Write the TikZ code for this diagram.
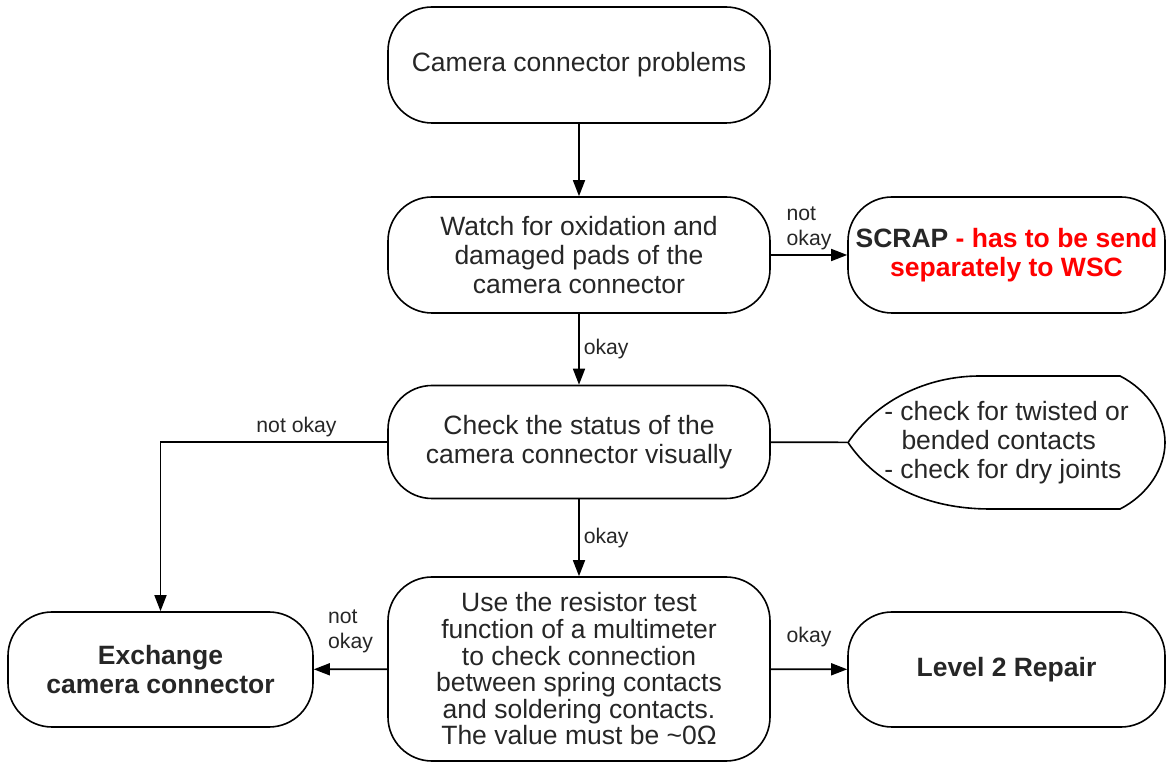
\documentclass[tikz,border=0pt]{standalone}
\usepackage{fontspec}
\setmainfont{Liberation Sans}
\usepackage{tikz}
\usetikzlibrary{arrows.meta}
\tikzset{
    stepBox/.style={draw, line width=0.8pt, rounded corners=22pt, align=center,
		text=black!85, minimum width=191pt, minimum height=58pt, inner sep=2pt,
		font=\fontsize{13.25}{14.4}\selectfont},
    flowArrow/.style={line width=0.8pt, -{Triangle[length=8pt,width=6pt]}},
    edgeLabel/.style={text=black!85, align=left, inner sep=2pt,
		font=\fontsize{10.6}{12.4}\selectfont}
}

\begin{document}
\begin{tikzpicture}[x=0.5pt,y=-0.5pt]
			\useasboundingbox (0,0) rectangle (1167,763);
			\node[stepBox] (problems) at (579,65) {Camera connector problems};
			\node[stepBox] (watch) at (579,255) {Watch for oxidation and\\damaged pads of the\\camera connector};
			\node[stepBox, minimum width=158.5pt] (scrap) at (1006.5,255) {\textbf{SCRAP} \textcolor{red}{\textbf{- has to be send}}\\\textcolor{red}{\textbf{separately to WSC}}};
			\node[stepBox, minimum height=56.5pt] (check) at (579,442) {Check the status of the\\camera connector visually};
			\node[stepBox, minimum height=92pt, font=\fontsize{13.25}{13.3}\selectfont] (resistor) at (579,669) {Use the resistor test\\function of a multimeter\\to check connection\\between spring contacts\\and soldering contacts.\\The value must be \textasciitilde0Ω};
			\node[stepBox, minimum width=152.5pt, minimum height=57.5pt] (exchange) at (160.5,669.5) {\textbf{Exchange}\\\textbf{camera connector}};
			\node[stepBox, minimum width=158.5pt, minimum height=57.5pt] (level) at (1006.5,669.5) {\textbf{Level 2 Repair}};
			% note beside the visual check
			\node[stepBox, draw=none, align=left, minimum width=158.5pt, minimum height=66.5pt] (note) at (1006.5,442.5) {- check for twisted or\\\hspace*{0.65em}bended contacts\\- check for dry joints};
			\begin{scope}[shift={(note.center)}]
				\draw[line width=0.8pt] (-158.5,0) .. controls (-130,-42) and (-80,-66.5) .. (-26.5,-66.5) -- (113.5,-66.5)
					.. controls (142,-52) and (158.5,-25) .. (158.5,0) .. controls (158.5,25) and (142,52) .. (113.5,66.5)
					-- (-16.5,66.5) .. controls (-80,66.5) and (-130,42) .. cycle;
			\end{scope}
			\draw[flowArrow] (problems) -- (watch);
			\draw[flowArrow] (watch) -- node[edgeLabel, right] {okay} (check);
			\draw[flowArrow] (watch) -- node[edgeLabel, above] {not\\okay} (scrap);
			\draw[flowArrow] (check) -| node[edgeLabel, above, pos=0.2] {not okay} (exchange);
			\draw[line width=0.8pt] (check) -- (note);
			\draw[flowArrow] (check) -- node[edgeLabel, right] {okay} (resistor);
			\draw[flowArrow] (resistor) -- node[edgeLabel, above=6pt] {not\\okay} (exchange);
			\draw[flowArrow] (resistor) -- node[edgeLabel, above=9pt] {okay} (level);
		\end{tikzpicture}
\end{document}
